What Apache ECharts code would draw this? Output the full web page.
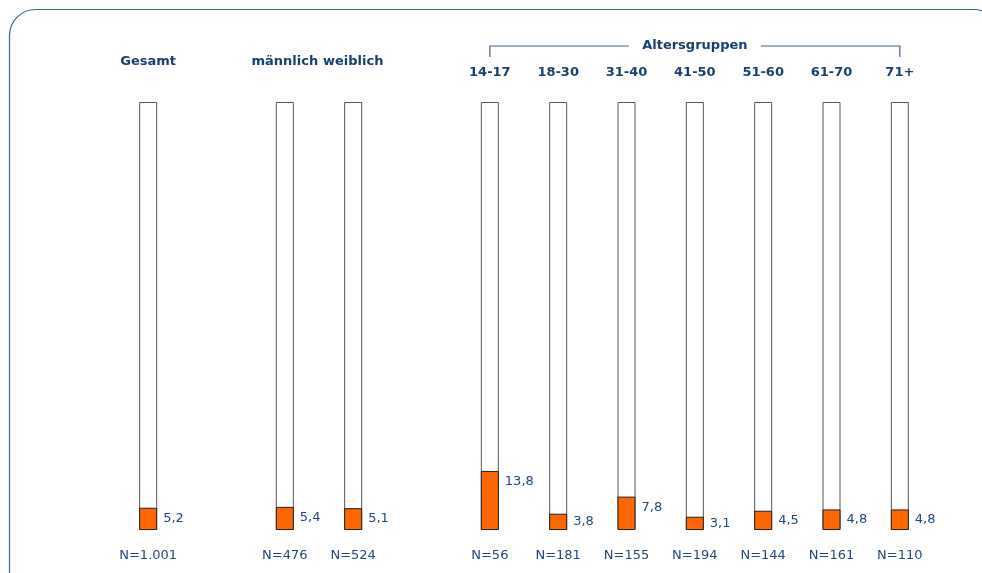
<!DOCTYPE html>
<html>
<head>
<meta charset="utf-8">
<script src="https://cdn.jsdelivr.net/npm/echarts@6/dist/echarts.min.js"></script>
<style>html,body{margin:0;padding:0;background:#fff}#c{width:982px;height:573px}</style>
</head>
<body>
<div id="c"></div>
<script>
// Slots: "" entries are spacer slots between groups
const categories = ["Gesamt", "", "männlich", "weiblich", "", "14-17", "18-30", "31-40", "41-50", "51-60", "61-70", "71+"];
const groupLabels = ["Gesamt", "", "männlich", "weiblich", "", "", "", "", "", "", "", ""];
const ageLabels = ["", "", "", "", "", "14-17", "18-30", "31-40", "41-50", "51-60", "61-70", "71+"];
const values = [5.2, null, 5.4, 5.1, null, 13.8, 3.8, 7.8, 3.1, 4.5, 4.8, 4.8];
const totals = [100, null, 100, 100, null, 100, 100, 100, 100, 100, 100, 100];
const nLabels = ["N=1.001", "", "N=476", "N=524", "", "N=56", "N=181", "N=155", "N=194", "N=144", "N=161", "N=110"];
const bracketTitle = "Altersgruppen";

const FONT = "DejaVu Sans, Verdana, sans-serif";
const DARK = "#16406f";
const TXT = "#1f4878";
const GRID_TOP = 102, GRID_BOTTOM = 43, CHART_H = 573;
const plotH = CHART_H - GRID_TOP - GRID_BOTTOM;

const chart = echarts.init(document.getElementById('c'), null, {renderer: 'canvas'});

const baseAxis = {
  type: 'category', data: categories, boundaryGap: true,
  axisLine: {show: false}, axisTick: {show: false}, splitLine: {show: false}
};

const option = {
  animation: false,
  backgroundColor: '#ffffff',
  grid: {left: 114, right: 48, top: GRID_TOP, bottom: GRID_BOTTOM, containLabel: false},
  xAxis: [
    Object.assign({}, baseAxis, {position: 'bottom',
      axisLabel: {interval: 0, margin: 19, fontFamily: FONT, fontSize: 13, color: TXT,
        formatter: (v, i) => nLabels[i]}}),
    Object.assign({}, baseAxis, {position: 'top',
      axisLabel: {interval: 0, margin: 34, fontFamily: FONT, fontSize: 13, fontWeight: 'bold', color: DARK,
        formatter: (v, i) => groupLabels[i]}}),
    Object.assign({}, baseAxis, {position: 'top',
      axisLabel: {interval: 0, margin: 23, fontFamily: FONT, fontSize: 13, fontWeight: 'bold', color: DARK,
        formatter: (v, i) => ageLabels[i]}})
  ],
  yAxis: {type: 'value', min: 0, max: 100, show: false},
  series: [
    {
      type: 'bar', xAxisIndex: 0, barWidth: 18, barGap: '-100%', silent: true,
      data: totals,
      itemStyle: {color: '#ffffff', borderColor: '#555555', borderWidth: 1},
      z: 1
    },
    {
      type: 'bar', xAxisIndex: 0, barWidth: 18, barGap: '-100%', silent: true,
      data: values.map(v => v == null ? null : {
        value: v,
        label: {position: [24, Math.min(11, v * plotH / 100 / 2)]}
      }),
      itemStyle: {color: '#ff6600', borderColor: '#222222', borderWidth: 1},
      label: {show: true, fontFamily: FONT, fontSize: 13, color: TXT, verticalAlign: 'middle', align: 'left',
        formatter: p => String(p.value).replace('.', ',')},
      z: 2
    }
  ]
};
chart.setOption(option);

// Frame and "Altersgruppen" bracket
const firstAge = categories.indexOf("14-17");
const lastAge = categories.indexOf("71+");
const x1 = chart.convertToPixel({xAxisIndex: 0}, firstAge);
const x2 = chart.convertToPixel({xAxisIndex: 0}, lastAge);
const mid = (x1 + x2) / 2;
const by = 46, tickBottom = 57, gapHalf = 66;
chart.setOption({
  graphic: [
    {type: 'rect', shape: {x: 9.5, y: 9.5, width: 990, height: 590, r: 26}, silent: true,
      style: {fill: 'none', stroke: '#3d6591', lineWidth: 1.2}},
    {type: 'polyline', shape: {points: [[x1, tickBottom], [x1, by], [mid - gapHalf, by]]}, silent: true,
      style: {stroke: '#3d6591', lineWidth: 1.2, fill: 'none'}},
    {type: 'polyline', shape: {points: [[mid + gapHalf, by], [x2, by], [x2, tickBottom]]}, silent: true,
      style: {stroke: '#3d6591', lineWidth: 1.2, fill: 'none'}},
    {type: 'text', x: mid, y: by, silent: true,
      style: {text: bracketTitle, fontFamily: FONT, fontSize: 13, fontWeight: 'bold', fill: DARK,
        align: 'center', verticalAlign: 'middle'}}
  ]
});
</script>
</body>
</html>
